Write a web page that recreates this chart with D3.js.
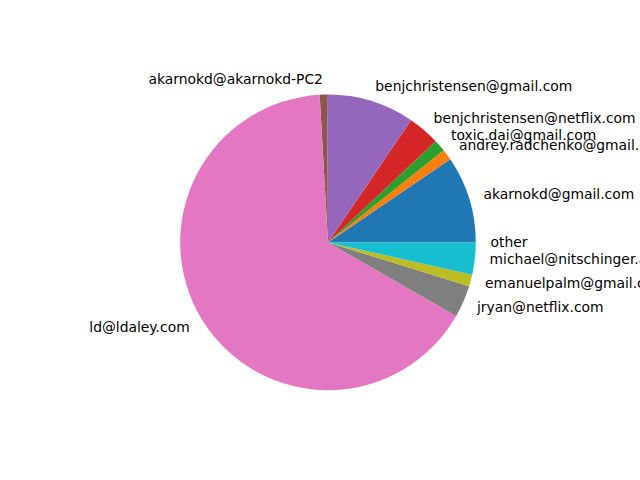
<!DOCTYPE html>
<html><head><meta charset="utf-8">
<script src="https://cdn.jsdelivr.net/npm/d3@7"></script>
<style>body{margin:0;background:#fff}svg{display:block}</style>
</head><body>
<svg id="c" width="640" height="480"></svg>
<script>
const labels = ["akarnokd@gmail.com","andrey.radchenko@gmail.com","toxic.dai@gmail.com","benjchristensen@netflix.com","benjchristensen@gmail.com","akarnokd@akarnokd-PC2","ld@ldaley.com","jryan@netflix.com","emanuelpalm@gmail.com","michael@nitschinger.at","other"];
const values = [95, 12, 13, 35, 96, 8, 658, 35, 13, 35, 0];
const colors = ["#1f77b4","#ff7f0e","#2ca02c","#d62728","#9467bd","#8c564b","#e377c2","#7f7f7f","#bcbd22","#17becf","#1f77b4"];

const svg = d3.select("#c");
const cx = 328, cy = 242.4, r = 147.8;
const data = labels.map((l,i)=>({label:l, value:values[i], color:colors[i]}));
const pie = d3.pie().value(d=>d.value).sort(null)
  .startAngle(Math.PI/2).endAngle(Math.PI/2 - 2*Math.PI);
const arcs = pie(data);
const arc = d3.arc().innerRadius(0).outerRadius(r);
const g = svg.append("g").attr("transform",`translate(${cx},${cy})`);
g.selectAll("path").data(arcs).join("path")
  .attr("d", arc).attr("fill", d=>d.data.color);
g.selectAll("text").data(arcs).join("text")
  .each(function(d){
    const a = (d.startAngle + d.endAngle)/2;
    const x = 1.1*r*Math.sin(a), y = -1.1*r*Math.cos(a);
    d3.select(this).attr("x", x).attr("y", y)
      .attr("dy","0.3em")
      .attr("text-anchor", x > 0 ? "start" : "end");
  })
  .attr("font-family","DejaVu Sans")
  .attr("font-size","13.89px")
  .attr("fill","#000")
  .text(d=>d.data.label);
</script>
</body></html>
